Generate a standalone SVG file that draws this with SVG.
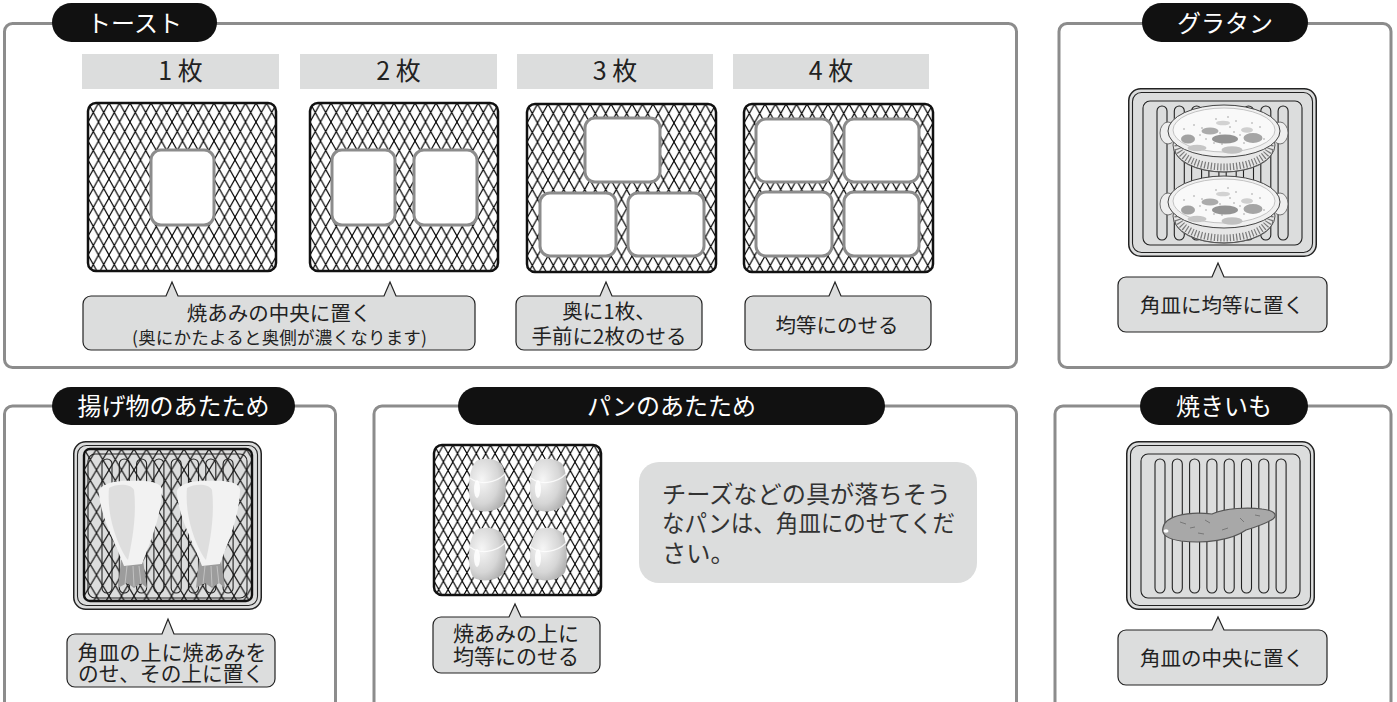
<svg xmlns="http://www.w3.org/2000/svg" width="1397" height="702" viewBox="0 0 1397 702">
  <style>
    text { font-family: "Noto Sans CJK JP", "Noto Sans", sans-serif; }
    .panel { fill: none; stroke: #8c8c8c; stroke-width: 3; }
    .pill { fill: #111; }
    .pilltxt { fill: #fff; font-size: 24px; text-anchor: middle; }
    .bar { fill: #dcdddd; }
    .bartxt { fill: #222; font-size: 25px; text-anchor: middle; }
    .grid { stroke: #111; stroke-width: 2.5; }
    .slice { fill: #fff; stroke: #8c8c8c; stroke-width: 3; }
    .callout { fill: #dcdddd; stroke: #222; stroke-width: 1.2; }
    .ctxt { fill: #222; font-size: 20.5px; text-anchor: middle; }
    .info { fill: #333; font-size: 24.2px; }
    .line { fill: none; stroke: #222; stroke-width: 1.1; }
  </style>
  <defs>
    <!-- diamond wire mesh, three gauges -->
    <pattern id="meshA" width="10.5" height="19" patternUnits="userSpaceOnUse">
      <path d="M-15.75,-9.5 L5.25,28.5 M-5.25,-9.5 L15.75,28.5 M5.25,-9.5 L26.25,28.5 M5.25,-9.5 L-15.75,28.5 M15.75,-9.5 L-5.25,28.5 M26.25,-9.5 L5.25,28.5" stroke="#000" stroke-width="1.15" fill="none"/>
    </pattern>
    <pattern id="meshB" width="9.4" height="17" patternUnits="userSpaceOnUse">
      <path d="M-14.1,-8.5 L4.7,25.5 M-4.7,-8.5 L14.1,25.5 M4.7,-8.5 L23.5,25.5 M4.7,-8.5 L-14.1,25.5 M14.1,-8.5 L-4.7,25.5 M23.5,-8.5 L4.7,25.5" stroke="#000" stroke-width="1.1" fill="none"/>
    </pattern>
    <pattern id="meshC" width="12.5" height="21" patternUnits="userSpaceOnUse">
      <path d="M-18.75,-10.5 L6.25,31.5 M-6.25,-10.5 L18.75,31.5 M6.25,-10.5 L31.25,31.5 M6.25,-10.5 L-18.75,31.5 M18.75,-10.5 L-6.25,31.5 M31.25,-10.5 L6.25,31.5" stroke="#1a1a1a" stroke-width="1.2" fill="none"/>
    </pattern>
    <radialGradient id="rollG" cx="0.35" cy="0.4" r="0.7">
      <stop offset="0" stop-color="#f6f6f6"/>
      <stop offset="0.65" stop-color="#d6d6d6"/>
      <stop offset="1" stop-color="#b0b0b0"/>
    </radialGradient>

    <!-- square baking tray with ridged bottom -->
    <g id="tray">
      <rect x="0.75" y="0.75" width="187.5" height="167.5" rx="12" fill="#dcdddd" stroke="#222" stroke-width="1.5"/>
      <rect x="4.5" y="4.5" width="180" height="160" rx="9" class="line"/>
      <rect x="15" y="13" width="159" height="144" rx="7" class="line"/>
      <g fill="#dcdddd" stroke="#222" stroke-width="1.1">
        <rect x="29" y="18" width="10" height="134" rx="5"/>
        <rect x="46.3" y="18" width="10" height="134" rx="5"/>
        <rect x="63.6" y="18" width="10" height="134" rx="5"/>
        <rect x="80.9" y="18" width="10" height="134" rx="5"/>
        <rect x="98.2" y="18" width="10" height="134" rx="5"/>
        <rect x="115.5" y="18" width="10" height="134" rx="5"/>
        <rect x="132.8" y="18" width="10" height="134" rx="5"/>
        <rect x="150.1" y="18" width="10" height="134" rx="5"/>
      </g>
    </g>

    <!-- oval gratin dish, centred on its rim -->
    <g id="dish">
      <ellipse cx="0" cy="14" rx="51" ry="27" fill="#e6e6e6" stroke="#444" stroke-width="0.9"/>
      <path d="M-46,14 A46,22 0 0 0 46,14" fill="none" stroke="#7a7a7a" stroke-width="7" stroke-dasharray="1.2 2"/>
      <path d="M-49,18 A49,23 0 0 0 49,18" fill="none" stroke="#555" stroke-width="0.8"/>
      <ellipse cx="-56" cy="2" rx="8" ry="11" fill="#eeeeee" stroke="#666" stroke-width="0.9"/>
      <ellipse cx="56" cy="2" rx="8" ry="11" fill="#eeeeee" stroke="#666" stroke-width="0.9"/>
      <ellipse cx="0" cy="0" rx="56" ry="26" fill="#f0f0f0" stroke="#444" stroke-width="1"/>
      <ellipse cx="0" cy="-1" rx="51" ry="22" fill="#f9f9f9" stroke="#b5b5b5" stroke-width="0.8"/>
      <ellipse cx="-1" cy="-8" rx="7" ry="2.3" fill="#d2d2d2"/>
      <ellipse cx="23" cy="-1" rx="6" ry="2.8" fill="#cfcfcf"/>
      <ellipse cx="-14" cy="0" rx="8.5" ry="3.6" fill="#ababab"/>
      <ellipse cx="-36" cy="8" rx="7" ry="4.5" fill="#a2a2a2"/>
      <ellipse cx="1" cy="8" rx="13" ry="4.5" fill="#939393"/>
      <ellipse cx="29" cy="7" rx="9.5" ry="5" fill="#a5a5a5"/>
      <ellipse cx="-27" cy="17" rx="9.5" ry="3.2" fill="#c6c6c6"/>
      <ellipse cx="8" cy="19" rx="10.5" ry="3.8" fill="#c0c0c0"/>
      <g fill="#8a8a8a">
        <circle cx="-30" cy="-6" r="0.7"/><circle cx="-22" cy="-3" r="0.7"/><circle cx="-8" cy="-12" r="0.7"/>
        <circle cx="6" cy="-4" r="0.7"/><circle cx="12" cy="-10" r="0.7"/><circle cx="-4" cy="2" r="0.7"/>
        <circle cx="10" cy="1" r="0.7"/><circle cx="16" cy="4" r="0.7"/><circle cx="-18" cy="8" r="0.7"/>
        <circle cx="-10" cy="12" r="0.7"/><circle cx="20" cy="12" r="0.7"/><circle cx="36" cy="-4" r="0.7"/>
        <circle cx="-40" cy="-2" r="0.7"/><circle cx="-2" cy="13" r="0.7"/><circle cx="28" cy="-8" r="0.7"/>
        <circle cx="-24" cy="4" r="0.7"/><circle cx="4" cy="-14" r="0.7"/><circle cx="40" cy="8" r="0.7"/>
      </g>
    </g>

    <!-- breaded prawn seen from above -->
    <g id="ebi">
      <path d="M24,80 L46,80 L50,108 L44,103 L37,108 L30,103 L21,108 Z" fill="#9c9c9c"/>
      <path d="M30,86 L28,104 M36,86 L37,106 M42,86 L44,104" stroke="#c2c2c2" stroke-width="1" fill="none"/>
      <path d="M2,14 C0,4 20,0 34,1 C50,0 67,2 65,12 C64,36 54,60 45,84 L27,86 C18,62 4,38 2,14 Z" fill="#f2f2f2"/>
      <path d="M12,8 C21,3 34,4 37,10 C40,35 35,62 31,80 C24,72 9,40 12,8 Z" fill="#dedede"/>
    </g>

    <!-- bread roll -->
    <g id="roll">
      <path d="M9,3 C16,-1 30,0 35,7 C39,15 40,36 37,45 C33,53 16,56 7,51 C1,46 -1,15 9,3 Z" fill="url(#rollG)"/>
      <path d="M3,20 C12,27 28,26 38,16" fill="none" stroke="#fff" stroke-width="1.2" opacity="0.8"/>
      <ellipse cx="10" cy="31" rx="3" ry="9" fill="#fff" opacity="0.85"/>
    </g>
  </defs>

  <rect width="1397" height="702" fill="#fff"/>

  <!-- Toast -->
  <g id="toast">
    <rect class="panel" x="4.5" y="23.5" width="1012" height="344" rx="8"/>
    <rect class="pill" x="52" y="3" width="165" height="39" rx="19.5"/>
    <text class="pilltxt" x="134.5" y="31.5">トースト</text>

    <g id="toast-1">
      <rect class="bar" x="82" y="54" width="197" height="35"/>
      <text class="bartxt" x="180.5" y="80">1 枚</text>
      <g transform="translate(88,103)"><rect class="grid" width="188" height="168" rx="8" fill="url(#meshA)"/></g>
      <rect class="slice" x="151" y="150" width="63" height="75" rx="10"/>
    </g>

    <g id="toast-2">
      <rect class="bar" x="300" y="54" width="197" height="35"/>
      <text class="bartxt" x="398.5" y="80">2 枚</text>
      <g transform="translate(310,103)"><rect class="grid" width="188" height="168" rx="8" fill="url(#meshA)"/></g>
      <rect class="slice" x="332" y="150" width="63" height="75" rx="10"/>
      <rect class="slice" x="414" y="150" width="63" height="75" rx="10"/>
    </g>

    <g id="toast-3">
      <rect class="bar" x="517" y="54" width="196" height="35"/>
      <text class="bartxt" x="615" y="80">3 枚</text>
      <g transform="translate(527,104)"><rect class="grid" width="189" height="168" rx="8" fill="url(#meshA)"/></g>
      <rect class="slice" x="585" y="118" width="75" height="64" rx="10"/>
      <rect class="slice" x="540" y="193" width="76" height="63" rx="10"/>
      <rect class="slice" x="628" y="193" width="76" height="63" rx="10"/>
    </g>

    <g id="toast-4">
      <rect class="bar" x="733" y="54" width="196" height="35"/>
      <text class="bartxt" x="831" y="80">4 枚</text>
      <g transform="translate(744,104)"><rect class="grid" width="189" height="168" rx="8" fill="url(#meshA)"/></g>
      <rect class="slice" x="756" y="119" width="76" height="63" rx="10"/>
      <rect class="slice" x="844" y="119" width="75" height="63" rx="10"/>
      <rect class="slice" x="756" y="192" width="76" height="64" rx="10"/>
      <rect class="slice" x="844" y="192" width="75" height="64" rx="10"/>
    </g>

    <g id="toast-note-1">
      <path class="callout" d="M91,296 H166 L172,282 L178,296 H384 L390,282 L396,296 H467 A8,8 0 0 1 475,304 V342 A8,8 0 0 1 467,350 H91 A8,8 0 0 1 83,342 V304 A8,8 0 0 1 91,296 Z"/>
      <text class="ctxt" x="279" y="321">焼あみの中央に置く</text>
      <text class="ctxt" x="279.5" y="343.5" style="font-size:17.5px" textLength="295" lengthAdjust="spacing">(奥にかたよると奥側が濃くなります)</text>
    </g>
    <g id="toast-note-3">
      <path class="callout" d="M524,296 H600 L606,282 L612,296 H694 A8,8 0 0 1 702,304 V342 A8,8 0 0 1 694,350 H524 A8,8 0 0 1 516,342 V304 A8,8 0 0 1 524,296 Z"/>
      <text class="ctxt" x="609" y="318.5">奥に1枚、</text>
      <text class="ctxt" x="609" y="344">手前に2枚のせる</text>
    </g>
    <g id="toast-note-4">
      <path class="callout" d="M753,296 H829 L835,282 L841,296 H923 A8,8 0 0 1 931,304 V342 A8,8 0 0 1 923,350 H753 A8,8 0 0 1 745,342 V304 A8,8 0 0 1 753,296 Z"/>
      <text class="ctxt" x="837" y="332.5">均等にのせる</text>
    </g>
  </g>

  <!-- Gratin -->
  <g id="gratin">
    <rect class="panel" x="1059" y="23.5" width="332" height="344" rx="8"/>
    <rect class="pill" x="1142" y="3" width="166" height="39" rx="19.5"/>
    <text class="pilltxt" x="1225" y="31.5">グラタン</text>
    <use href="#tray" x="1128" y="88"/>
    <use href="#dish" transform="translate(1224,131)"/>
    <use href="#dish" transform="translate(1224,202)"/>
    <path class="callout" d="M1126,277 H1212 L1218,263 L1224,277 H1319 A8,8 0 0 1 1327,285 V324 A8,8 0 0 1 1319,332 H1126 A8,8 0 0 1 1118,324 V285 A8,8 0 0 1 1126,277 Z"/>
    <text class="ctxt" x="1222" y="313">角皿に均等に置く</text>
  </g>

  <!-- Fried food -->
  <g id="agemono">
    <rect class="panel" x="4.5" y="406" width="331" height="330" rx="8"/>
    <rect class="pill" x="52" y="387" width="243" height="38" rx="19"/>
    <text class="pilltxt" x="173.5" y="415">揚げ物のあたため</text>
    <use href="#tray" x="73" y="441"/>
    <g transform="translate(84,449)"><rect width="168" height="152" rx="6" fill="url(#meshC)" stroke="#111" stroke-width="2.4"/></g>
    <use href="#ebi" transform="translate(97,480)"/>
    <use href="#ebi" transform="translate(175,480)"/>
    <path class="callout" d="M75,634 H162 L168,619 L174,634 H267 A8,8 0 0 1 275,642 V679 A8,8 0 0 1 267,687 H75 A8,8 0 0 1 67,679 V642 A8,8 0 0 1 75,634 Z"/>
    <text class="ctxt" x="172" y="659.5" style="font-size:21px">角皿の上に焼あみを</text>
    <text class="ctxt" x="171" y="681" style="font-size:21px" textLength="186" lengthAdjust="spacingAndGlyphs">のせ、その上に置く</text>
  </g>

  <!-- Bread -->
  <g id="pan">
    <rect class="panel" x="374" y="406" width="642.5" height="330" rx="8"/>
    <rect class="pill" x="458" y="387" width="427" height="38" rx="19"/>
    <text class="pilltxt" x="671.5" y="415">パンのあたため</text>
    <g transform="translate(434,445)"><rect width="167" height="150" rx="8" fill="url(#meshB)" stroke="#111" stroke-width="2.5"/></g>
    <use href="#roll" transform="translate(467,458)"/>
    <use href="#roll" transform="translate(528,458)"/>
    <use href="#roll" transform="translate(467,527)"/>
    <use href="#roll" transform="translate(528,527)"/>
    <path class="callout" d="M441,617 H509 L515,604 L521,617 H592 A8,8 0 0 1 600,625 V665 A8,8 0 0 1 592,673 H441 A8,8 0 0 1 433,665 V625 A8,8 0 0 1 441,617 Z"/>
    <text class="ctxt" x="516" y="641" style="font-size:21px">焼あみの上に</text>
    <text class="ctxt" x="516" y="663.5" style="font-size:21px">均等にのせる</text>
    <g id="pan-info">
      <rect x="639" y="462" width="338" height="121" rx="20" fill="#dcdddd"/>
      <text class="info" x="662" y="502.5">チーズなどの具が落ちそう</text>
      <text class="info" x="662" y="532" textLength="293" lengthAdjust="spacingAndGlyphs">なパンは、角皿にのせてくだ</text>
      <text class="info" x="662" y="561.5">さい。</text>
    </g>
  </g>

  <!-- Baked sweet potato -->
  <g id="yakiimo">
    <rect class="panel" x="1055" y="406" width="336" height="330" rx="8"/>
    <rect class="pill" x="1140" y="387" width="168" height="38" rx="19"/>
    <text class="pilltxt" x="1224" y="415">焼きいも</text>
    <use href="#tray" x="1126" y="441"/>
    <path d="M1163,528 C1164,517 1185,511 1212,514 C1226,508 1248,507 1262,509 C1272,510 1279,514 1273,519 C1265,524 1256,527 1246,530 C1232,540 1205,544 1181,541 C1168,539 1161,535 1163,528 Z" fill="#a8a8a8" stroke="#555" stroke-width="1.2"/>
    <path d="M1180,522 l6,2 M1205,520 l5,3 M1222,530 l6,-2 M1240,518 l4,4 M1198,533 l6,1 M1255,515 l5,1 M1190,528 l5,-1" stroke="#777" stroke-width="1" fill="none"/>
    <ellipse cx="1166" cy="531" rx="2.5" ry="1.8" fill="#fff"/>
    <path class="callout" d="M1126,630 H1212 L1218,617 L1224,630 H1319 A8,8 0 0 1 1327,638 V677 A8,8 0 0 1 1319,685 H1126 A8,8 0 0 1 1118,677 V638 A8,8 0 0 1 1126,630 Z"/>
    <text class="ctxt" x="1222" y="666">角皿の中央に置く</text>
  </g>
</svg>
